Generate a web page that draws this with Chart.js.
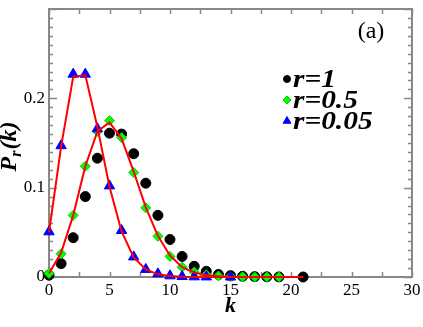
<!DOCTYPE html>
<html>
<head>
<meta charset="utf-8">
<script src="https://cdn.jsdelivr.net/npm/chart.js@4.4.0/dist/chart.umd.min.js"></script>
<style>
  html, body { margin: 0; padding: 0; background: #fff; }
</style>
</head>
<body>
<canvas id="chart" width="423" height="327"></canvas>
<script>
// r = 1 (black circles)
const kOne = [0, 1, 2, 3, 4, 5, 6, 7, 8, 9, 10, 11, 12, 13, 14, 15, 16, 17, 18, 19, 21];
const pOne = [0.002, 0.015, 0.044, 0.090, 0.133, 0.161, 0.160, 0.138, 0.105, 0.069, 0.042, 0.023,
  0.012, 0.0063, 0.0028, 0.0015, 0.0008, 0.0004, 0.0002, 0.0001, 0.0];

// r = 0.5 (green diamonds)
const kHalf = [0, 1, 2, 3, 4, 5, 6, 7, 8, 9, 10, 11, 12, 13, 14, 15, 16, 17, 18, 19];
const pHalf = [0.004, 0.026, 0.069, 0.124, 0.163, 0.175, 0.156, 0.117, 0.0775, 0.0456, 0.023, 0.011,
  0.0055, 0.0025, 0.0011, 0.0005, 0.0002, 0.0001, 0.00005, 0.00002];

// r = 0.05 (blue triangles)
const kLow = [0, 1, 2, 3, 4, 5, 6, 7, 8, 9, 10, 11, 12, 13, 15];
const pLow = [0.0506, 0.147, 0.227, 0.227, 0.166, 0.102, 0.052, 0.0225, 0.0085, 0.0035, 0.0013,
  0.0005, 0.0002, 0.0001, 0.0];

// red theory curves
const kFit = [0, 1, 2, 3, 4, 5, 6, 7, 8, 9, 10, 11, 12, 13, 14, 15, 16, 17, 18, 19, 20, 21];
const fitHalf = [0.004, 0.027, 0.069, 0.124, 0.163, 0.173, 0.155, 0.118, 0.078, 0.046, 0.024, 0.011,
  0.005, 0.002, 0.0008, 0.0003, 0.0001, 0, 0, 0, 0, 0];
const fitLow = [0.050, 0.146, 0.224, 0.226, 0.168, 0.101, 0.051, 0.022, 0.0085, 0.003, 0.001, 0.0003,
  0.0001, 0, 0, 0, 0, 0, 0, 0, 0, 0];

const yTickLabels = [0, 0.1, 0.2];
const legendLabels = ['r=1', 'r=0.5', 'r=0.05'];

const pts = (ks, ps) => ks.map((k, i) => ({ x: k, y: ps[i] }));
const SERIF = "'Liberation Serif', 'DejaVu Serif', serif";

const frame = {
  id: 'frame',
  beforeDatasetsDraw(chart) {
    const { ctx, chartArea: a, scales: { x, y } } = chart;
    ctx.save();
    ctx.strokeStyle = '#888';
    ctx.lineWidth = 1.5;
    ctx.beginPath();
    for (let v = 0; v <= 30; v += 2.5) {
      const px = Math.round(x.getPixelForValue(v)) + 0.5;
      ctx.moveTo(px, a.bottom); ctx.lineTo(px, a.bottom - 5);
      ctx.moveTo(px, a.top); ctx.lineTo(px, a.top + 5);
    }
    for (let i = 0; i <= 30; i++) {
      const py = Math.round(y.getPixelForValue(i / 100)) + 0.5;
      const len = i % 10 === 0 ? 8 : 4;
      ctx.moveTo(a.left, py); ctx.lineTo(a.left + len, py);
      ctx.moveTo(a.right, py); ctx.lineTo(a.right - len, py);
    }
    ctx.stroke();
    ctx.lineWidth = 2;
    ctx.strokeRect(a.left, a.top, a.right - a.left, a.bottom - a.top);
    ctx.restore();
  },
  afterDraw(chart) {
    const { ctx, chartArea: a } = chart;
    ctx.save();
    ctx.fillStyle = '#000';
    // panel label
    ctx.font = '24px ' + SERIF;
    ctx.textAlign = 'center';
    ctx.textBaseline = 'alphabetic';
    ctx.fillText('(a)', 371, 38);

    // x title
    ctx.font = 'italic bold 22px ' + SERIF;
    ctx.fillText('k', (a.left + a.right) / 2, 312);

    // y title with subscript
    ctx.translate(16, 147);
    ctx.rotate(-Math.PI / 2);
    const big = 'italic bold 24px ' + SERIF;
    const small = 'italic bold 16px ' + SERIF;
    ctx.font = big; const wP = ctx.measureText('P').width; const wK = ctx.measureText('(k)').width;
    ctx.font = small; const wR = ctx.measureText('r').width;
    let cx = -(wP + wR + wK) / 2;
    ctx.textAlign = 'left';
    ctx.font = big; ctx.fillText('P', cx, 0); cx += wP;
    ctx.font = small; ctx.fillText('r', cx, 5); cx += wR + 1;
    ctx.font = big; ctx.fillText('(k)', cx, 0);
    ctx.setTransform(1, 0, 0, 1, 0, 0);

    // legend
    const marks = chart.data.datasets.filter(d => d.inLegend);
    marks.forEach((d, i) => {
      const yc = 79 + i * 21;
      ctx.fillStyle = d.backgroundColor;
      ctx.strokeStyle = d.borderColor;
      Chart.helpers.drawPoint(ctx, { pointStyle: d.pointStyle, radius: d.legendRadius, rotation: 0, borderWidth: 1 }, 287, yc);
      ctx.save();
      ctx.fillStyle = '#000';
      ctx.font = 'italic bold 26px ' + SERIF;
      ctx.textAlign = 'left';
      ctx.textBaseline = 'middle';
      ctx.translate(293, yc + 1);
      ctx.scale(1.13, 1);
      ctx.fillText(legendLabels[i], 0, 0);
      ctx.restore();
    });
    ctx.restore();
  }
};

new Chart(document.getElementById('chart'), {
  type: 'scatter',
  data: {
    datasets: [
      { type: 'line', data: pts(kFit, fitLow), borderColor: '#ff0000', borderWidth: 2, pointRadius: 0, tension: 0, order: 0, clip: false },
      { type: 'line', data: pts(kFit, fitHalf), borderColor: '#ff0000', borderWidth: 2, pointRadius: 0, tension: 0, order: 0, clip: false },
      { label: legendLabels[0], data: pts(kOne, pOne), pointStyle: 'circle', pointRadius: 5, legendRadius: 3.5,
        backgroundColor: '#000', borderColor: '#000', borderWidth: 1, order: 3, clip: false, inLegend: true },
      { label: legendLabels[1], data: pts(kHalf, pHalf), pointStyle: 'rectRot', pointRadius: 5, legendRadius: 4,
        backgroundColor: '#00ff00', borderColor: '#00d000', borderWidth: 1, order: 2, clip: false, inLegend: true },
      { label: legendLabels[2], data: pts(kLow, pLow), pointStyle: 'triangle', pointRadius: 6, legendRadius: 4.5,
        backgroundColor: '#0000ff', borderColor: '#0000ff', borderWidth: 1, order: 1, clip: false, inLegend: true }
    ]
  },
  options: {
    responsive: false,
    animation: false,
    devicePixelRatio: 1,
    layout: { padding: { top: 9, right: 11, left: 0, bottom: 0 } },
    plugins: { legend: { display: false }, tooltip: { enabled: false } },
    scales: {
      x: {
        type: 'linear', min: 0, max: 30,
        grid: { display: false, drawTicks: false },
        border: { display: false },
        ticks: { stepSize: 5, color: '#000', padding: 3, font: { family: SERIF, size: 17 } },
        afterFit: s => { s.height = 50; s.paddingLeft = 0; s.paddingRight = 0; }
      },
      y: {
        type: 'linear', min: 0, max: 0.3,
        grid: { display: false, drawTicks: false },
        border: { display: false },
        ticks: {
          stepSize: 0.1, color: '#000', padding: 4, font: { family: SERIF, size: 17 },
          callback: v => yTickLabels.some(t => Math.abs(t - v) < 1e-9) ? String(+v.toFixed(1)) : ''
        },
        afterFit: s => { s.width = 49; s.paddingTop = 0; s.paddingBottom = 0; }
      }
    }
  },
  plugins: [frame]
});
</script>
</body>
</html>
